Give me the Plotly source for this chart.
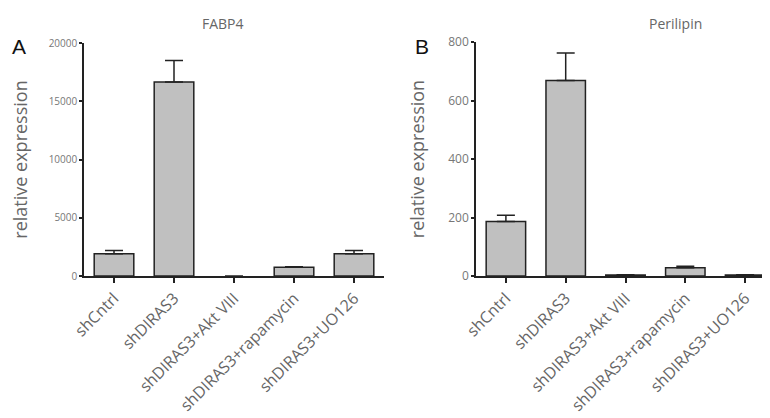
import plotly.graph_objects as go

categories = ["shCntrl", "shDIRAS3", "shDIRAS3+Akt VIII", "shDIRAS3+rapamycin", "shDIRAS3+UO126"]

fabp4_mean = [1900, 16650, 0, 750, 1900]
fabp4_err = [280, 1850, None, 40, 280]
fabp4_ticks = [0, 5000, 10000, 15000, 20000]

perilipin_mean = [186, 668, 3, 28, 3]
perilipin_err = [22, 94, 1, 5, 1]
perilipin_ticks = [0, 200, 400, 600, 800]

gray_text = "#666666"
bar_fill = "#c0c0c0"

# the page shows the figure 8px lower than the window top
W, H, OFF_X, OFF_Y = 770, 410, 0, 8


def fx(x):
    return (x - OFF_X) / W


def fy(y):
    return (H + OFF_Y - y) / H


def bar_trace(values, errors, xa, ya):
    # no outline for an empty bar, like the original figure
    outline = [1.5 if v > 0 else 0 for v in values]
    return go.Bar(
        x=categories, y=values, xaxis=xa, yaxis=ya,
        marker=dict(color=bar_fill, line=dict(color="#222222", width=outline)),
        width=0.66,
        error_y=dict(type="data", symmetric=False, array=errors, arrayminus=[0] * len(values),
                     color="#222222", thickness=1.5, width=9),
        showlegend=False,
    )


fig = go.Figure()
fig.add_trace(bar_trace(fabp4_mean, fabp4_err, "x", "y"))
fig.add_trace(bar_trace(perilipin_mean, perilipin_err, "x2", "y2"))

xcommon = dict(
    showline=True, linecolor="#222222", linewidth=1.5,
    ticks="outside", ticklen=5, tickcolor="#222222", tickwidth=1.5,
    tickangle=-45, tickfont=dict(family="Open Sans", size=16, color=gray_text),
    showgrid=False, zeroline=False, range=[-0.5, 4.5], fixedrange=True, automargin=False,
)
ycommon = dict(
    showline=True, linecolor="#222222", linewidth=1.5,
    ticks="outside", ticklen=3, tickcolor="#222222", tickwidth=1.5,
    showgrid=False, zeroline=False, fixedrange=True, automargin=False,
)
ytitle_font = dict(family="Open Sans", size=18, color=gray_text)

fig.update_layout(
    width=W, height=H,
    margin=dict(l=0, r=0, t=0, b=0),
    paper_bgcolor="white", plot_bgcolor="white",
    xaxis=dict(domain=[fx(76), fx(376)], anchor="y", **xcommon),
    yaxis=dict(domain=[fy(276), fy(43)], anchor="x", range=[0, 20000],
               tickvals=fabp4_ticks, ticktext=[str(t) for t in fabp4_ticks],
               tickfont=dict(family="Open Sans", size=10, color="#777777"),
               title=dict(text="relative expression", font=ytitle_font, standoff=20), **ycommon),
    xaxis2=dict(domain=[fx(468), fx(767)], anchor="y2", **xcommon),
    yaxis2=dict(domain=[fy(276), fy(42)], anchor="x2", range=[0, 800],
                tickvals=perilipin_ticks, ticktext=[str(t) for t in perilipin_ticks],
                tickfont=dict(family="Open Sans", size=12, color="#777777"),
                title=dict(text="relative expression", font=ytitle_font, standoff=19), **ycommon),
    annotations=[
        dict(text="FABP4", x=fx(215), y=fy(12), xref="paper", yref="paper", xanchor="center",
             showarrow=False, font=dict(family="Open Sans", size=14, color=gray_text)),
        dict(text="Perilipin", x=fx(667), y=fy(12), xref="paper", yref="paper", xanchor="center",
             showarrow=False, font=dict(family="Open Sans", size=14, color=gray_text)),
        dict(text="A", x=fx(11), y=fy(33), xref="paper", yref="paper", xanchor="center",
             showarrow=False, font=dict(family="Liberation Sans", size=21, color="#111111")),
        dict(text="B", x=fx(414), y=fy(33), xref="paper", yref="paper", xanchor="center",
             showarrow=False, font=dict(family="Liberation Sans", size=21, color="#111111")),
    ],
)

fig.write_html("out.html")
